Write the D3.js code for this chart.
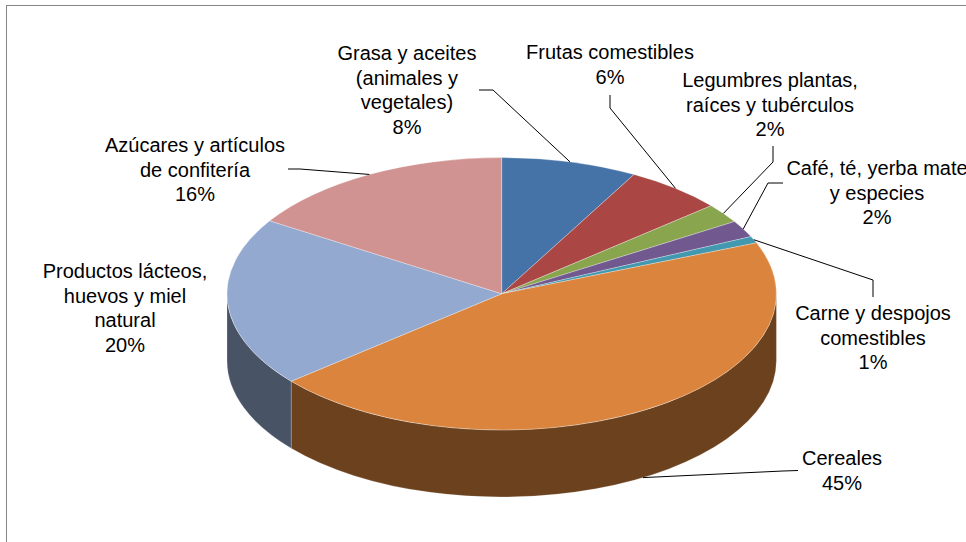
<!DOCTYPE html>
<html>
<head>
<meta charset="utf-8">
<script src="https://cdn.jsdelivr.net/npm/d3@7"></script>
<style>
  html, body { margin: 0; padding: 0; background: #fff; }
  text { font-family: "Liberation Sans", Arial, sans-serif; font-size: 20px; fill: #000; }
</style>
</head>
<body>
<div id="chart"></div>
<script>
// data (clockwise from 12 o'clock)
const categories = [
  "Grasa y aceites\n(animales y\nvegetales)",
  "Frutas comestibles",
  "Legumbres plantas,\nraíces y tubérculos",
  "Café, té, yerba mate\ny especies",
  "Carne y despojos\ncomestibles",
  "Cereales",
  "Productos lácteos,\nhuevos y miel\nnatural",
  "Azúcares y artículos\nde confitería"
];
const values = [8.0, 5.8, 2.3, 2.0, 0.8, 45.0, 20.1, 16.0];
const colors = ["#4572A7", "#AA4643", "#89A54E", "#71588F", "#4198AF", "#DB843D", "#93A9CF", "#D19392"];

// label layout: center x, first baseline, leader elbow points (label end first)
const labelPos = [
  { x: 407, y: 60,  leader: [[479, 90], [493, 90]] },
  { x: 610, y: 59,  leader: [[610, 95], [610, 108]] },
  { x: 770, y: 87,  leader: [[773, 146], [773, 162]] },
  { x: 877, y: 175, leader: [[783, 183], [768, 183]] },
  { x: 873, y: 320, leader: [[873, 297], [873, 280]] },
  { x: 842, y: 465, leader: [[798, 470.5], [783, 471]] },
  { x: 125, y: 278, leader: null },
  { x: 195, y: 152, leader: [[288, 169], [300, 169]] }
];

const width = 966, height = 542;
const cx = 501.7, cy = 293.8, rx = 274.7, ry = 136.2, depth = 67;
const lineH = 24.7;

const svg = d3.select("#chart").append("svg").attr("width", width).attr("height", height);

// chart area border
svg.append("rect").attr("x", 6.5).attr("y", 5.5).attr("width", 1000).attr("height", 600)
  .attr("fill", "#fff").attr("stroke", "#868686").attr("stroke-width", 1);

const total = d3.sum(values);
const arcs = d3.pie().sort(null).value(d => d)(values);

function pt(a, dy) {
  return [cx + rx * Math.sin(a), cy - ry * Math.cos(a) + (dy || 0)];
}

// side walls (front half only)
const sides = svg.append("g");
arcs.forEach(function(d, i) {
  let s0 = Math.max(d.startAngle, Math.PI / 2);
  let s1 = Math.min(d.endAngle, 3 * Math.PI / 2);
  if (s1 <= s0) return;
  let p0 = pt(s0), p1 = pt(s1), q1 = pt(s1, depth), q0 = pt(s0, depth);
  let path = "M" + p0 + "A" + rx + "," + ry + " 0 0 1 " + p1 +
             "L" + q1 + "A" + rx + "," + ry + " 0 0 0 " + q0 + "Z";
  sides.append("path").attr("d", path)
    .attr("fill", d3.color(colors[i]).darker(2))
    .attr("stroke", "rgba(255,255,255,0.35)").attr("stroke-width", 0.6);
});

// top face: circular arcs squashed into the ellipse
const arc = d3.arc().innerRadius(0).outerRadius(rx);
svg.append("g")
  .attr("transform", "translate(" + cx + "," + cy + ") scale(1," + (ry / rx) + ")")
  .selectAll("path")
  .data(arcs)
  .enter()
  .append("path")
  .attr("d", arc)
  .attr("fill", (d, i) => colors[i])
  .attr("stroke", "rgba(255,255,255,0.5)")
  .attr("stroke-width", 0.6)
  .attr("vector-effect", "non-scaling-stroke");

// leader lines, ending on the rim at the slice middle
arcs.forEach(function(d, i) {
  let lp = labelPos[i];
  if (!lp.leader) return;
  let mid = (d.startAngle + d.endAngle) / 2;
  let front = mid > Math.PI / 2 && mid < 3 * Math.PI / 2;
  let end = pt(mid, front ? depth : 0);
  let pts = lp.leader.concat([end]);
  svg.append("path").attr("d", d3.line()(pts))
    .attr("fill", "none").attr("stroke", "#000").attr("stroke-width", 1);
});

// labels
arcs.forEach(function(d, i) {
  let lp = labelPos[i];
  let lines = categories[i].split("\n").concat([Math.round(values[i] / total * 100) + "%"]);
  let t = svg.append("text").attr("text-anchor", "middle");
  lines.forEach(function(s, k) {
    t.append("tspan").attr("x", lp.x).attr("y", lp.y + k * lineH).text(s);
  });
});
</script>
</body>
</html>
